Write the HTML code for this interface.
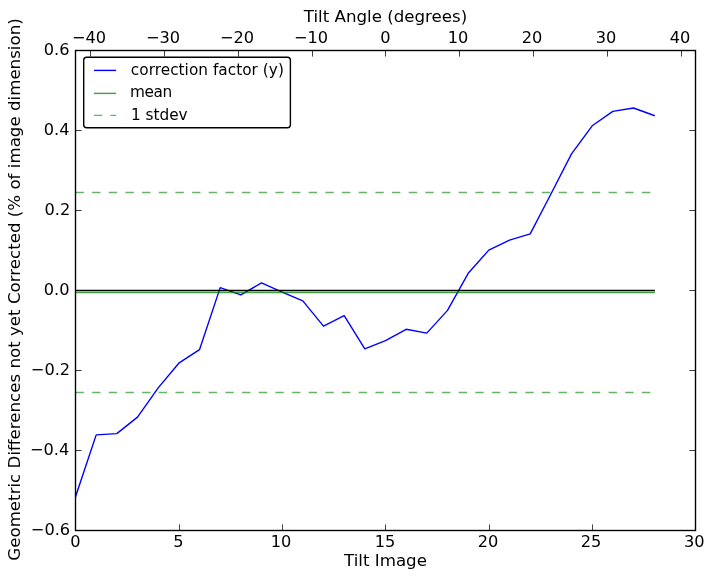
<!DOCTYPE html>
<html lang="en"><head><meta charset="utf-8"><title>Tilt series correction factor</title>
<style>html,body{margin:0;padding:0;background:#fff;overflow:hidden}svg{display:block}text{white-space:pre;font-family:"DejaVu Sans","Liberation Sans",sans-serif;font-size:16.67px;fill:#000}.tk text{font-size:16.2px}.lg text{font-size:15.3px}</style></head><body>
<svg width="714" height="579" viewBox="0 0 714 579">
<rect width="714" height="579" fill="#fff"/>
<defs><clipPath id="axclip"><rect x="75.5" y="50.5" width="620.0" height="480.0"/></clipPath></defs>
<g clip-path="url(#axclip)">
<polyline points="75.5,496.8 96.2,434.9 116.8,433.6 137.5,417.1 158.2,387.9 178.8,363.2 199.5,349.7 220.2,287.6 240.8,294.9 261.5,282.9 282.2,292.1 302.8,300.9 323.5,326.1 344.2,315.6 364.8,348.8 385.5,340.6 406.2,329.3 426.8,333.1 447.5,310.4 468.2,273.3 488.8,250.1 509.5,240.1 530.2,233.9 550.8,194.3 571.5,153.9 592.2,125.8 612.8,111.4 633.5,108.0 654.2,115.5" fill="none" stroke="#0000ff" stroke-width="1.39" stroke-linejoin="round" stroke-linecap="square"/>
<line x1="75.5" x2="654.2" y1="290.5" y2="290.5" stroke="#000" stroke-width="1.39" stroke-linecap="square"/>
<line x1="75.5" x2="654.2" y1="292.5" y2="292.5" stroke="#008000" stroke-opacity="0.75" stroke-width="1.39" stroke-linecap="square"/>
<line x1="75.5" x2="654.2" y1="192.5" y2="192.5" stroke="#008000" stroke-opacity="0.6" stroke-width="1.39" stroke-dasharray="8.33 8.33"/>
<line x1="75.5" x2="654.2" y1="392.5" y2="392.5" stroke="#008000" stroke-opacity="0.6" stroke-width="1.39" stroke-dasharray="8.33 8.33"/>
</g>
<rect x="75.5" y="50.5" width="620.0" height="480.0" fill="none" stroke="#000" stroke-width="1.39"/>
<path d="M75.5 530.5v-6.1M179.5 530.5v-6.1M282.5 530.5v-6.1M385.5 530.5v-6.1M489.5 530.5v-6.1M592.5 530.5v-6.1M695.5 530.5v-6.1M90.5 50.5v6.1M164.5 50.5v6.1M238.5 50.5v6.1M312.5 50.5v6.1M385.5 50.5v6.1M459.5 50.5v6.1M533.5 50.5v6.1M607.5 50.5v6.1M681.5 50.5v6.1M75.5 530.5h6.1M695.5 530.5h-6.1M75.5 450.5h6.1M695.5 450.5h-6.1M75.5 370.5h6.1M695.5 370.5h-6.1M75.5 290.5h6.1M695.5 290.5h-6.1M75.5 210.5h6.1M695.5 210.5h-6.1M75.5 130.5h6.1M695.5 130.5h-6.1M75.5 50.5h6.1M695.5 50.5h-6.1" stroke="#000" stroke-opacity="0.74" stroke-width="1" fill="none"/>
<g class="tk">
<text x="75.50" y="547.0" text-anchor="middle">0</text>
<text x="178.45" y="547.0" text-anchor="middle">5</text>
<text x="281.10" y="547.0" text-anchor="middle">10</text>
<text x="385.00" y="547.0" text-anchor="middle">15</text>
<text x="488.00" y="547.0" text-anchor="middle">20</text>
<text x="591.00" y="547.0" text-anchor="middle">25</text>
<text x="694.20" y="547.0" text-anchor="middle">30</text>
<text x="89.0" y="43.0" text-anchor="middle">−40</text>
<text x="163.0" y="43.0" text-anchor="middle">−30</text>
<text x="237.0" y="43.0" text-anchor="middle">−20</text>
<text x="311.0" y="43.0" text-anchor="middle">−10</text>
<text x="385.3" y="43.0" text-anchor="middle">0</text>
<text x="458.0" y="43.0" text-anchor="middle">10</text>
<text x="532.0" y="43.0" text-anchor="middle">20</text>
<text x="606.0" y="43.0" text-anchor="middle">30</text>
<text x="680.0" y="43.0" text-anchor="middle">40</text>
<text x="70.14" y="535.0" text-anchor="end">−0.6</text>
<text x="69.30" y="455.0" text-anchor="end">−0.4</text>
<text x="70.15" y="375.0" text-anchor="end">−0.2</text>
<text x="69.50" y="295.0" text-anchor="end">0.0</text>
<text x="70.30" y="215.0" text-anchor="end">0.2</text>
<text x="69.50" y="135.0" text-anchor="end">0.4</text>
<text x="69.50" y="55.0" text-anchor="end">0.6</text>
</g>
<text x="385.5" y="22" text-anchor="middle">Tilt Angle (degrees)</text>
<text x="385.5" y="566" text-anchor="middle">Tilt Image</text>
<text transform="translate(19.5 289.5) rotate(-90)" text-anchor="middle">Geometric Differences not yet Corrected (% of image dimension)</text>
<g class="lg">
<rect x="83.7" y="57.3" width="206.7" height="70.4" rx="3" ry="3" fill="#fff" stroke="#000" stroke-width="1.39"/>
<line x1="93.9" x2="116.1" y1="70.4" y2="70.4" stroke="#0000ff" stroke-width="1.39"/>
<line x1="93.9" x2="116.1" y1="93.4" y2="93.4" stroke="#008000" stroke-opacity="0.75" stroke-width="1.39"/>
<line x1="93.9" x2="116.1" y1="115.4" y2="115.4" stroke="#008000" stroke-opacity="0.6" stroke-width="1.39" stroke-dasharray="8.33 8.33"/>
<text x="130.8" y="75" style="letter-spacing:0.035px">correction factor (y)</text>
<text x="130.0" y="97" style="letter-spacing:-0.4px">mean</text>
<text x="130.9" y="120">1 stdev</text>
</g>
</svg></body></html>
